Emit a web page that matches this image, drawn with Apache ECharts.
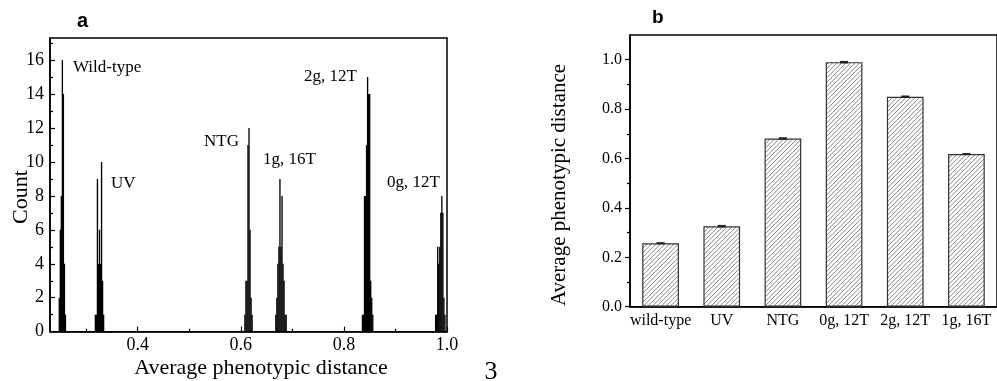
<!DOCTYPE html>
<html>
<head>
<meta charset="utf-8">
<script src="https://cdn.jsdelivr.net/npm/echarts@6/dist/echarts.min.js"></script>
<style>html,body{margin:0;padding:0;background:#fff}#c{width:997px;height:381px}</style>
</head>
<body>
<div id="c"></div>
<script>
// ---- Panel a: histogram data (bin centre, count) ----
var wildTypeHist = [[0.248,2],[0.250,6],[0.252,8],[0.254,16],[0.256,14],[0.258,4],[0.260,1]];
var uvHist = [[0.318,1],[0.320,1],[0.322,9],[0.324,4],[0.326,6],[0.328,4],[0.330,10],[0.332,3],[0.334,1]];
var ntgHist = [[0.608,1],[0.610,3],[0.612,3],[0.614,11],[0.616,12],[0.618,6],[0.620,2],[0.622,1]];
var g1t16Hist = [[0.668,1],[0.670,2],[0.672,4],[0.674,5],[0.676,9],[0.678,5],[0.680,8],[0.682,4],[0.684,3],[0.686,1],[0.688,1]];
var g2t12Hist = [[0.836,1],[0.838,1],[0.840,8],[0.842,8],[0.844,11],[0.846,15],[0.848,14],[0.850,14],[0.852,3],[0.854,2],[0.856,1]];
var g0t12Hist = [[0.978,1],[0.980,1],[0.982,5],[0.984,4],[0.986,5],[0.988,7],[0.990,8],[0.992,7],[0.994,2],[0.996,1]];
var binWidth = 0.002;
var histXMajor = [0.4, 0.6, 0.8, 1.0];
var histXMinor = [0.3, 0.5, 0.7, 0.9];
var histYMajor = [0, 2, 4, 6, 8, 10, 12, 14, 16];
var histYMinor = [1, 3, 5, 7, 9, 11, 13, 15, 17];

// ---- Panel b: bar data ----
var barCategories = ['wild-type', 'UV', 'NTG', '0g, 12T', '2g, 12T', '1g, 16T'];
var barValues = [0.257, 0.326, 0.681, 0.990, 0.850, 0.618];
var barErrors = [0.001, 0.002, 0.002, 0.002, 0.002, 0.001];
var barYMajor = [0, 0.2, 0.4, 0.6, 0.8, 1.0];
var barYMinor = [0.1, 0.3, 0.5, 0.7, 0.9];

var SERIF = '"Liberation Serif", "Times New Roman", serif';

// hatch pattern
var pat = document.createElement('canvas');
pat.width = 9; pat.height = 9;
var pc = pat.getContext('2d');
pc.fillStyle = '#ffffff'; pc.fillRect(0, 0, 9, 9);
pc.strokeStyle = '#7a7a7a'; pc.lineWidth = 0.9;
[-9, -4.5, 0, 4.5, 9].forEach(function (x0) {
  pc.beginPath(); pc.moveTo(x0, 9); pc.lineTo(x0 + 9, 0); pc.stroke();
});

var allHist = [].concat(wildTypeHist, uvHist, ntgHist, g1t16Hist, g2t12Hist, g0t12Hist);
var errData = barValues.map(function (v, i) { return [i, v, barErrors[i]]; });

var chart = echarts.init(document.getElementById('c'), null, {renderer: 'canvas'});
chart.setOption({
  animation: false,
  backgroundColor: '#fff',
  grid: [
    {left: 50, top: 38, width: 397, height: 293.7, show: true, borderColor: '#000', borderWidth: 1.5, backgroundColor: 'transparent'},
    {left: 630, top: 35, width: 368, height: 271.7, show: true, borderColor: '#000', borderWidth: 1.5, backgroundColor: 'transparent'}
  ],
  xAxis: [
    {type: 'value', gridIndex: 0, min: 0.23, max: 1.0, position: 'bottom',
     axisLine: {show: true, onZero: false, lineStyle: {color: '#000', width: 1.5}},
     axisTick: {show: true, inside: true, length: 5, customValues: histXMajor, lineStyle: {color: '#000', width: 1.2}},
     axisLabel: {show: true, customValues: histXMajor, margin: 5, color: '#000', fontFamily: SERIF, fontSize: 18,
                 formatter: function (v) { return v.toFixed(1); }},
     splitLine: {show: false}},
    {type: 'value', gridIndex: 0, min: 0.23, max: 1.0, position: 'bottom',
     axisLine: {show: false},
     axisTick: {show: true, inside: true, length: 3, customValues: histXMinor, lineStyle: {color: '#000', width: 1.2}},
     axisLabel: {show: false}, splitLine: {show: false}},
    {type: 'category', gridIndex: 1, data: barCategories, position: 'bottom',
     axisLine: {show: true, lineStyle: {color: '#000', width: 1.5}},
     axisTick: {show: false},
     axisLabel: {color: '#000', fontFamily: SERIF, fontSize: 16, margin: 6, interval: 0},
     splitLine: {show: false}}
  ],
  yAxis: [
    {type: 'value', gridIndex: 0, min: 0, max: 17.3,
     axisLine: {show: true, lineStyle: {color: '#000', width: 1.5}},
     axisTick: {show: true, inside: true, length: 5, customValues: histYMajor, lineStyle: {color: '#000', width: 1.2}},
     axisLabel: {show: true, customValues: histYMajor, margin: 6, color: '#000', fontFamily: SERIF, fontSize: 18},
     splitLine: {show: false}},
    {type: 'value', gridIndex: 0, min: 0, max: 17.3, position: 'left',
     axisLine: {show: false},
     axisTick: {show: true, inside: true, length: 3, customValues: histYMinor, lineStyle: {color: '#000', width: 1.2}},
     axisLabel: {show: false}, splitLine: {show: false}},
    {type: 'value', gridIndex: 1, min: 0, max: 1.1,
     axisLine: {show: true, lineStyle: {color: '#000', width: 1.5}},
     axisTick: {show: true, inside: false, length: 5, customValues: barYMajor, lineStyle: {color: '#000', width: 1.2}},
     axisLabel: {show: true, customValues: barYMajor, margin: 8, color: '#000', fontFamily: SERIF, fontSize: 16,
                 formatter: function (v) { return v.toFixed(1); }},
     splitLine: {show: false}},
    {type: 'value', gridIndex: 1, min: 0, max: 1.1, position: 'left',
     axisLine: {show: false},
     axisTick: {show: true, inside: false, length: 3, customValues: barYMinor, lineStyle: {color: '#000', width: 1.2}},
     axisLabel: {show: false}, splitLine: {show: false}}
  ],
  series: [
    {type: 'custom', xAxisIndex: 0, yAxisIndex: 0, data: allHist, clip: true,
     renderItem: function (params, api) {
       var x = api.value(0), y = api.value(1);
       var p0 = api.coord([x - binWidth * 0.65, y]);
       var p1 = api.coord([x + binWidth * 0.65, 0]);
       return {type: 'rect', shape: {x: p0[0], y: p0[1], width: Math.max(p1[0] - p0[0], 1.3), height: p1[1] - p0[1]},
               style: {fill: '#000'}};
     }},
    {type: 'bar', xAxisIndex: 2, yAxisIndex: 2, data: barValues, barWidth: '60%',
     itemStyle: {color: {image: pat, repeat: 'repeat'}, borderColor: '#333', borderWidth: 1.2}},
    {type: 'custom', xAxisIndex: 2, yAxisIndex: 2, data: errData, z: 5,
     renderItem: function (params, api) {
       var i = api.value(0), v = api.value(1), e = api.value(2);
       var t = api.coord([i, v + e]), b = api.coord([i, v - e]);
       var hw = 4;
       var st = {stroke: '#222', lineWidth: 1.5};
       return {type: 'group', children: [
         {type: 'line', shape: {x1: t[0], y1: t[1], x2: b[0], y2: b[1]}, style: st},
         {type: 'line', shape: {x1: t[0] - hw, y1: t[1], x2: t[0] + hw, y2: t[1]}, style: st},
         {type: 'line', shape: {x1: b[0] - hw, y1: b[1], x2: b[0] + hw, y2: b[1]}, style: st}
       ]};
     }}
  ],
  graphic: [
    {type: 'text', left: 77, top: 11, style: {text: 'a', fontFamily: '"Liberation Sans", Arial, sans-serif', fontWeight: 'bold', fontSize: 20, fill: '#000'}},
    {type: 'text', left: 652, top: 8, style: {text: 'b', fontFamily: '"Liberation Sans", Arial, sans-serif', fontWeight: 'bold', fontSize: 19, fill: '#000'}},
    {type: 'text', x: 21, y: 197, rotation: Math.PI / 2, style: {text: 'Count', fontFamily: SERIF, fontSize: 22, fill: '#000', align: 'center', verticalAlign: 'middle'}},
    {type: 'text', x: 261, y: 368, style: {text: 'Average phenotypic distance', fontFamily: SERIF, fontSize: 22, fill: '#000', align: 'center', verticalAlign: 'middle'}},
    {type: 'text', x: 559, y: 185, rotation: Math.PI / 2, style: {text: 'Average phenotypic distance', fontFamily: SERIF, fontSize: 21, fill: '#000', align: 'center', verticalAlign: 'middle'}},
    {type: 'text', x: 491, y: 372, style: {text: '3', fontFamily: SERIF, fontSize: 26, fill: '#000', align: 'center', verticalAlign: 'middle'}},
    {type: 'text', x: 73, y: 68, style: {text: 'Wild-type', fontFamily: SERIF, fontSize: 17, fill: '#000', align: 'left', verticalAlign: 'middle'}},
    {type: 'text', x: 111, y: 184, style: {text: 'UV', fontFamily: SERIF, fontSize: 17, fill: '#000', align: 'left', verticalAlign: 'middle'}},
    {type: 'text', x: 204, y: 142, style: {text: 'NTG', fontFamily: SERIF, fontSize: 17, fill: '#000', align: 'left', verticalAlign: 'middle'}},
    {type: 'text', x: 263, y: 160, style: {text: '1g, 16T', fontFamily: SERIF, fontSize: 17, fill: '#000', align: 'left', verticalAlign: 'middle'}},
    {type: 'text', x: 304, y: 77, style: {text: '2g, 12T', fontFamily: SERIF, fontSize: 17, fill: '#000', align: 'left', verticalAlign: 'middle'}},
    {type: 'text', x: 387, y: 183, style: {text: '0g, 12T', fontFamily: SERIF, fontSize: 17, fill: '#000', align: 'left', verticalAlign: 'middle'}}
  ]
});
</script>
</body>
</html>
